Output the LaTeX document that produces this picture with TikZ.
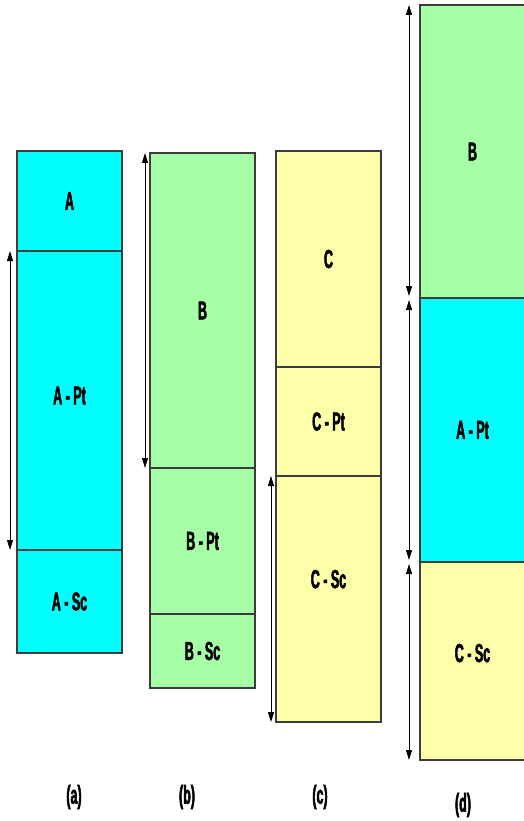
\documentclass[tikz,border=0pt]{standalone}
\usepackage{fontspec}
\newfontfamily\narrowfont[FakeStretch=0.48, FakeBold=2]{Liberation Sans Bold}
\usetikzlibrary{arrows.meta, positioning}
\definecolor{cyanbox}{RGB}{0,255,255}
\definecolor{greenbox}{RGB}{166,255,166}
\definecolor{yellowbox}{RGB}{255,255,170}
\definecolor{edge}{RGB}{60,60,60}
\tikzset{
  layer/.style={draw=edge, line width=1.2pt, anchor=north west, inner sep=0pt, outer sep=0pt,
    minimum width=105pt, font=\fontsize{26}{26}\narrowfont},
  span/.style={{Triangle[length=10pt,width=6pt]}-{Triangle[length=10pt,width=6pt]}, line width=1pt},
  caption/.style={font=\fontsize{26}{26}\narrowfont}
}

\begin{document}
\begin{tikzpicture}[x=1pt, y=-1pt]
  \useasboundingbox[fill=white] (0,0) rectangle (523,821);
  % column (a)
  \node[layer, fill=cyanbox, minimum height=100pt] (aA) at (17,151) {A};
  \node[layer, fill=cyanbox, minimum height=299pt, below=0pt of aA] (aPt) {\raisebox{10pt}{A - Pt}};
  \node[layer, fill=cyanbox, minimum height=103pt, below=0pt of aPt] (aSc) {\raisebox{-10pt}{A - Sc}};
  \draw[span] ([xshift=-7pt]aPt.north west) -- ([xshift=-7pt]aPt.south west);
  % column (b)
  \node[layer, fill=greenbox, minimum height=315pt] (bB) at (150,153) {B};
  \node[layer, fill=greenbox, minimum height=146pt, below=0pt of bB] (bPt) {\raisebox{-6pt}{B - Pt}};
  \node[layer, fill=greenbox, minimum height=74pt, below=0pt of bPt] (bSc) {\raisebox{-4pt}{B - Sc}};
  \draw[span] ([xshift=-5pt]bB.north west) -- ([xshift=-5pt]bB.south west);
  % column (c)
  \node[layer, fill=yellowbox, minimum height=216pt] (cC) at (276,151) {\raisebox{-4pt}{C}};
  \node[layer, fill=yellowbox, minimum height=109pt, below=0pt of cC] (cPt) {C - Pt};
  \node[layer, fill=yellowbox, minimum height=246pt, below=0pt of cPt] (cSc) {\raisebox{40pt}{C - Sc}};
  \draw[span] ([xshift=-5pt]cSc.north west) -- ([xshift=-5pt]cSc.south west);
  % column (d)
  \node[layer, fill=greenbox, minimum height=293pt] (dB) at (420,5) {B};
  \node[layer, fill=cyanbox, minimum height=264pt, below=0pt of dB] (dPt) {\raisebox{-14pt}{A - Pt}};
  \node[layer, fill=yellowbox, minimum height=198pt, below=0pt of dPt] (dSc) {\raisebox{16pt}{C - Sc}};
  \draw[span, shorten >=2pt] ([xshift=-11pt]dB.north west) -- ([xshift=-11pt]dB.south west);
  \draw[span, shorten <=2pt, shorten >=2pt] ([xshift=-11pt]dPt.north west) -- ([xshift=-11pt]dPt.south west);
  \draw[span, shorten <=2pt] ([xshift=-11pt]dSc.north west) -- ([xshift=-11pt]dSc.south west);
  % captions
  \node[caption] (capa) at (74,797) {(a)};
  \node[caption] (capb) at (187,797) {(b)};
  \node[caption] (capc) at (320,797) {(c)};
  \node[caption] (capd) at (463,805) {(d)};
\end{tikzpicture}
\end{document}
